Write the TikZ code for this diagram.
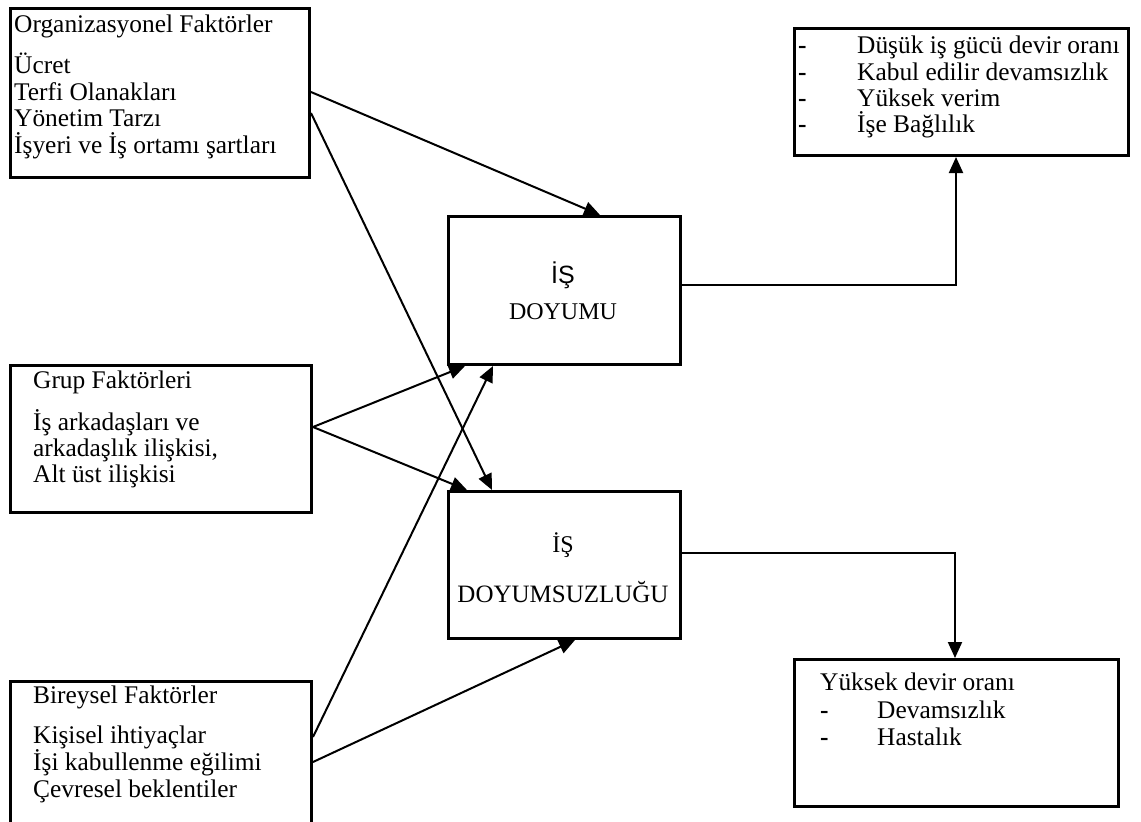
\documentclass[tikz,border=0pt]{standalone}
\usepackage{fontspec}
\setmainfont{Liberation Serif}
\newfontfamily\labelsans{Liberation Sans}
\usetikzlibrary{arrows.meta,calc}
\begin{document}
\begin{tikzpicture}[x=1pt,y=-1pt,
  frame/.style={draw, line width=3pt, inner sep=0pt, anchor=north west},
  txt/.style={inner sep=0pt, anchor=base west, font=\fontsize{25.4}{26.7}\selectfont},
  mid/.style={inner sep=0pt, anchor=base, font=\fontsize{24}{26}\selectfont},
  link/.style={line width=2pt, -{Triangle[length=16pt,width=14pt]}}]

\useasboundingbox (0,0) rectangle (1141,822);
\fill[white] (0,0) rectangle (1141,822);

% boxes
\node[frame, minimum width=299pt, minimum height=169pt] (org) at (9,7) {};
\node[frame, minimum width=301pt, minimum height=147pt] (grup) at (9,364) {};
\node[frame, minimum width=301pt, minimum height=150pt] (bir) at (9,680) {};
\node[frame, minimum width=232pt, minimum height=148pt] (doy) at (447,215) {};
\node[frame, minimum width=232pt, minimum height=147pt] (doys) at (447,490) {};
\node[frame, minimum width=334pt, minimum height=127pt] (res1) at (793,27) {};
\node[frame, minimum width=324pt, minimum height=147pt] (res2) at (793,658) {};

% organizational factors
\node[txt] (orgh) at (14,32) {Organizasyonel Faktörler};
\node[txt] (org1) at (14,73) {Ücret};
\node[txt] (org2) at (14,100) {Terfi Olanakları};
\node[txt] (org3) at (14,126.5) {Yönetim Tarzı};
\node[txt] (org4) at (14,153) {İşyeri ve İş ortamı şartları};

% group factors
\node[txt] (grh) at (33,388) {Grup Faktörleri};
\node[txt] (gr1) at (33,430) {İş arkadaşları ve};
\node[txt] (gr2) at (33,456) {arkadaşlık ilişkisi,};
\node[txt] (gr3) at (33,482) {Alt üst ilişkisi};

% individual factors
\node[txt] (bih) at (33,703) {Bireysel Faktörler};
\node[txt] (bi1) at (33,743) {Kişisel ihtiyaçlar};
\node[txt] (bi2) at (33,770) {İşi kabullenme eğilimi};
\node[txt] (bi3) at (33,797) {Çevresel beklentiler};

% satisfaction / dissatisfaction
\node[mid, font=\labelsans\fontsize{25}{26}\selectfont] (doyt1) at (563,283) {İŞ};
\node[mid] (doyt2) at (563,319) {DOYUMU};
\node[mid] (doyst1) at (563,552) {İŞ};
\node[mid, font=\fontsize{25}{26}\selectfont] (doyst2) at (563,602) {DOYUMSUZLUĞU};

% positive outcomes
\foreach \y/\t [count=\i] in {53/{Düşük iş gücü devir oranı}, 80/{Kabul edilir devamsızlık}, 106/{Yüksek verim}, 132/{İşe Bağlılık}} {
  \node[txt] (pd\i) at (798,\y) {\textbf{-}};
  \node[txt] (pt\i) at (857,\y) {\t};
}

% negative outcomes
\node[txt] (nh) at (820,690) {Yüksek devir oranı};
\node[txt] (nd1) at (820,718) {\textbf{-}};
\node[txt] (nt1) at (877,718) {Devamsızlık};
\node[txt] (nd2) at (820,745) {\textbf{-}};
\node[txt] (nt2) at (877,745) {Hastalık};

% connectors
\draw[link] ($(org.north east)+(0,85)$) -- ($(doy.north west)+(153,0)$);
\draw[link] ($(org.north east)+(0,106)$) -- ($(doys.north west)+(45,0)$);
\draw[link] ($(grup.north east)+(0,63)$) -- ($(doy.south west)+(18,0)$);
\draw[link] ($(grup.north east)+(0,63)$) -- ($(doys.north west)+(20,0)$);
\draw[link] ($(bir.north east)+(0,57)$) -- ($(doy.south west)+(46,0)$);
\draw[link] ($(bir.north east)+(0,82)$) -- ($(doys.south west)+(128,0)$);
\draw[link] ($(doy.north east)+(0,70)$) -| ($(res1.south west)+(163,0)$);
\draw[link] ($(doys.north east)+(0,63)$) -| ($(res2.north west)+(162,0)$);
\end{tikzpicture}
\end{document}
